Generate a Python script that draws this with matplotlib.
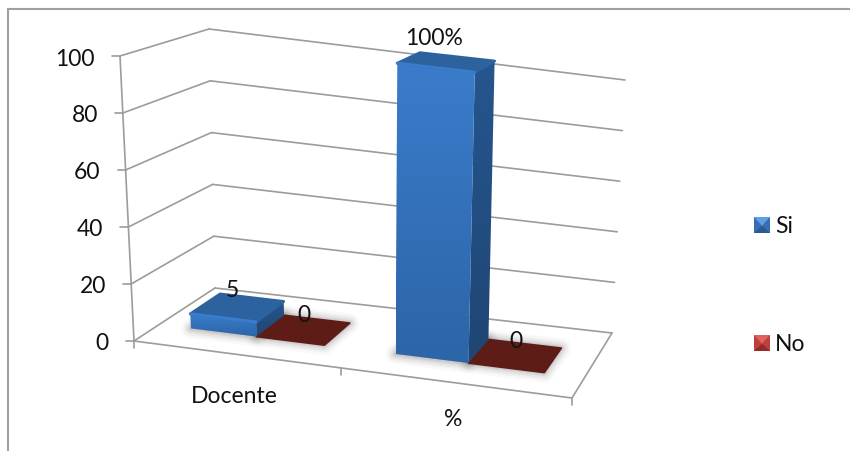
import numpy as np
import matplotlib
matplotlib.use("Agg")
import matplotlib.pyplot as plt
from matplotlib.patches import Polygon, Rectangle

plt.rcParams['font.family'] = ['Lato', 'DejaVu Sans']

# chart values
categories = ["Docente", "%"]
si_values = [5, 100]
no_values = [0, 0]
si_labels = ["5", "100%"]
no_labels = ["0", "0"]
y_ticks = [0, 20, 40, 60, 80, 100]

GRID = "#9c9c9c"
TEXT = "#111111"
FS = 16.5

fig = plt.figure(figsize=(8.5, 4.52), dpi=100)
ax = fig.add_axes([0, 0, 1, 1])
ax.set_xlim(0, 850)
ax.set_ylim(452, 0)
ax.axis("off")


# homography from the unit square (u along categories, d along depth)
def square_to_pixels(fl, fr, bl, br):
    src = [(0, 0), (1, 0), (0, 1), (1, 1)]
    dst = [fl, fr, bl, br]
    rows = []
    rhs = []
    for (u, d), (px, py) in zip(src, dst):
        rows.append([u, d, 1, 0, 0, 0, -u * px, -d * px])
        rows.append([0, 0, 0, u, d, 1, -u * py, -d * py])
        rhs += [px, py]
    h = np.linalg.solve(np.array(rows, float), np.array(rhs, float))
    return np.append(h, 1).reshape(3, 3)


def apply(h, u, d):
    p = h @ np.array([u, d, 1.0])
    return p[:2] / p[2]


floor = square_to_pixels((134, 342), (572, 399), (215, 289), (612, 334))
wall_top = square_to_pixels((120, 57), (585, 116), (209, 30), (625, 81))


def wall_pt(u, d, v):
    a = apply(floor, u, d)
    b = apply(wall_top, u, d)
    return a + (b - a) * v / y_ticks[-1]


def bar_pt(u, d, v):
    # bars rise from the floor, leaning out a little towards the sides
    a = apply(floor, u, d)
    lean = -14 + 27 * u
    rise = 300 - 32 * d
    return a + np.array([lean, -rise]) * v / y_ticks[-1]


def line(p, q, **kw):
    ax.plot([p[0], q[0]], [p[1], q[1]], color=GRID, solid_capstyle="round", zorder=2, **kw)


# walls and floor
for v in y_ticks:
    line(wall_pt(0, 0, v), wall_pt(0, 1, v), lw=1.2)
    line(wall_pt(0, 1, v), wall_pt(1, 1, v), lw=1.2)
    tick = wall_pt(0, 0, v)
    line(tick, tick + np.array([-8, 0]), lw=1.2)
    ax.text(tick[0] - 25, tick[1] + 2, str(v), ha="right", va="center",
            fontsize=FS, color=TEXT)
line(wall_pt(0, 0, 0), wall_pt(0, 0, 100), lw=1.2)
line(wall_pt(0, 0, 0), wall_pt(1, 0, 0), lw=1.2)
line(wall_pt(1, 0, 0), wall_pt(1, 1, 0), lw=1.2)

n = len(categories)
for i in range(n + 1):
    p = wall_pt(i / n, 0, 0)
    line(p, p + np.array([0, 7]), lw=1.2)


def gradient_poly(pts, top_col, bot_col, z):
    pts = np.array(pts)
    cols = np.array([matplotlib.colors.to_rgb(top_col), matplotlib.colors.to_rgb(bot_col)])
    grad = np.linspace(0, 1, 64)[:, None, None]
    img = cols[0] * (1 - grad) + cols[1] * grad
    x0, x1 = pts[:, 0].min(), pts[:, 0].max()
    y0, y1 = pts[:, 1].min(), pts[:, 1].max()
    im = ax.imshow(img, extent=(x0, x1, y1, y0), aspect="auto", zorder=z, interpolation="bilinear")
    clip = Polygon(pts, closed=True, transform=ax.transData, fc="none", ec="none")
    ax.add_patch(clip)
    im.set_clip_path(clip)


def shadow(pts, z):
    # soft halo on the floor around a bar footprint
    for w, a in zip([20, 15, 11, 7, 4], [0.04, 0.06, 0.08, 0.10, 0.12]):
        ax.add_patch(Polygon(pts, closed=True, fc="#666666", ec="#666666", lw=w * 0.72,
                             alpha=a, joinstyle="round", zorder=z))


def draw_bar(u0, u1, d0, d1, value, base, z):
    fl, fr, br, bl = [bar_pt(u, d, 0) for u, d in [(u0, d0), (u1, d0), (u1, d1), (u0, d1)]]
    shadow([fl, fr, br, bl], z)
    if value == 0:
        # empty series stays a flat plate on the floor
        ax.add_patch(Polygon([fl, fr, br, bl], closed=True, fc=base["flat"], ec=base["flat"],
                             lw=1.4, joinstyle="round", zorder=z + 1))
        return
    tfl, tfr, tbr, tbl = [bar_pt(u, d, value) for u, d in [(u0, d0), (u1, d0), (u1, d1), (u0, d1)]]
    gradient_poly([tfr, tbr, br, fr], base["side_top"], base["side_bot"], z + 1.2)
    gradient_poly([fl, fr, tfr, tfl], base["front_top"], base["front_bot"], z + 1.4)
    ax.add_patch(Polygon([tfl, tfr, tbr, tbl], closed=True, fc=base["top"], ec=base["top"],
                         lw=2.0, joinstyle="round", zorder=z + 1.6))
    ax.plot([tfl[0], tfr[0]], [tfl[1], tfr[1]], color=base["front_top"], lw=2.2, zorder=z + 1.7,
            solid_capstyle="round")


blue = {"front_top": "#3a7ccb", "front_bot": "#2c65a8", "side_top": "#25568f", "side_bot": "#1f4674",
        "top": "#2c639f"}
red = {"flat": "#5e1c17"}

# two clustered bars per category, drawn back to front
gap = 0.082
width = 0.166
d_near, d_far = 0.29, 0.67
for i in range(n):
    start = i / n + gap
    draw_bar(start, start + width, d_near, d_far, si_values[i], blue, 3 + i * 4)
    draw_bar(start + width, start + 2 * width, d_near, d_far, no_values[i], red, 2.5 + i * 4)

    c = bar_pt(start + width / 2, (d_near + d_far) / 2, si_values[i])
    ax.text(c[0] - (5 if i == 0 else 13), c[1] - (18 if i == 0 else 25), si_labels[i], ha="center",
            va="center", fontsize=FS, color=TEXT, zorder=20)
    c = bar_pt(start + 1.5 * width, (d_near + d_far) / 2, no_values[i])
    ax.text(c[0], c[1] - 15, no_labels[i], ha="center", va="center",
            fontsize=FS, color=TEXT, zorder=20)

    # category name under the front edge
    f = wall_pt((i + 0.5) / n, 0, 0)
    ax.text(f[0], f[1] + 41 - i * 5, categories[i], ha="center", va="center",
            fontsize=FS, color=TEXT)


# legend keys are small bevelled squares
def legend_key(x, y, light, mid, dark, label):
    s = 16
    ax.add_patch(Rectangle((x, y), s, s, fc=mid, ec="none", zorder=5))
    c = (x + s / 2, y + s * 0.55)
    ax.add_patch(Polygon([(x, y), (x + s, y), c], fc=light, ec="none", zorder=6))
    ax.add_patch(Polygon([(x, y + s), (x + s, y + s), c], fc=dark, ec="none", zorder=6))
    ax.text(x + 21, y + s / 2 + 1, label, ha="left", va="center", fontsize=FS, color=TEXT)


legend_key(754, 218, "#5f9fe6", "#356fb2", "#2a5a94", "Si")
legend_key(754, 336, "#e0605c", "#bc3f3b", "#8f2c29", "No")

# chart frame
ax.plot([8, 8], [10, 452], color="#a0a0a0", lw=1.5, zorder=1)
ax.plot([8, 850], [10, 10], color="#a0a0a0", lw=1.5, zorder=1)

ax.set_xlim(0, 850)
ax.set_ylim(452, 0)
fig.savefig("out.png", dpi=100)
